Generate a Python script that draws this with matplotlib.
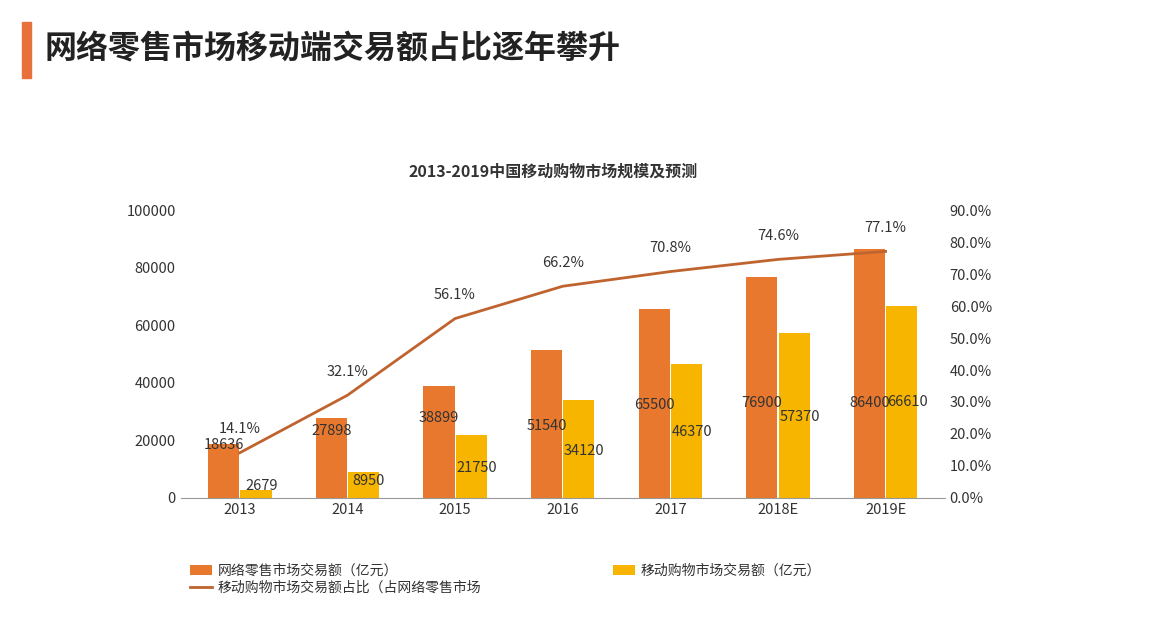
import matplotlib.pyplot as plt
import matplotlib.patches as mpatches
import numpy as np

plt.rcParams['font.family'] = ['Noto Sans CJK SC', 'DejaVu Sans']

years = ['2013', '2014', '2015', '2016', '2017', '2018E', '2019E']
online = [18636, 27898, 38899, 51540, 65500, 76900, 86400]
mobile = [2679, 8950, 21750, 34120, 46370, 57370, 66610]
share = [14.1, 32.1, 56.1, 66.2, 70.8, 74.6, 77.1]
online_label_y = [18400, 23300, 27800, 25000, 32300, 33000, 33000]
mobile_label_y = [4200, 5900, 10400, 16300, 22900, 28100, 33300]

c_or = '#E8782E'
c_ye = '#F7B500'
c_ln = '#C0642F'

fig = plt.figure(figsize=[11.65, 6.2], dpi=100)
fig.patches.append(mpatches.Rectangle((0.019, 0.875), 0.008, 0.09, transform=fig.transFigure, color='#E8703A'))
fig.text(0.038, 0.92, '网络零售市场移动端交易额占比逐年攀升', fontsize=23, fontweight='bold', va='center', color='#222222')
fig.text(0.475, 0.715, '2013-2019中国移动购物市场规模及预测', fontsize=11.5, fontweight='bold', ha='center', color='#333333')

ax = fig.add_axes([0.155, 0.197, 0.656, 0.464])
x = np.arange(len(years))
w = 0.29
b1 = ax.bar(x - 0.15, online, w, color=c_or, label='网络零售市场交易额（亿元）')
b2 = ax.bar(x + 0.15, mobile, w, color=c_ye, label='移动购物市场交易额（亿元）')
for i in range(len(years)):
    ax.text(x[i] - 0.15, online_label_y[i], str(online[i]), ha='center', va='center', fontsize=10.5, color='#333333')
    ax.text(x[i] + 0.2, mobile_label_y[i], str(mobile[i]), ha='center', va='center', fontsize=10.5, color='#333333')
ax.set_ylim(0, 100000)
ax.set_xlim(-0.55, len(years) - 0.45)
ax.set_yticks(range(0, 100001, 20000))
ax.set_xticks(x)
ax.set_xticklabels(years)
for s in ['top', 'left', 'right']:
    ax.spines[s].set_visible(False)
ax.spines['bottom'].set_color('#999999')
ax.tick_params(length=0, labelsize=10.5, colors='#333333')

ax2 = ax.twinx()
ln, = ax2.plot(x, share, color=c_ln, linewidth=2, label='移动购物市场交易额占比（占网络零售市场')
for i in range(len(years)):
    ax2.annotate(f'{share[i]:.1f}%', (x[i], share[i]), xytext=(0, 14), textcoords='offset points',
                 ha='center', fontsize=10.5, color='#333333')
ax2.set_ylim(0, 90)
ax2.set_yticks(range(0, 91, 10))
ax2.set_yticklabels([f'{v:.1f}%' for v in range(0, 91, 10)])
for s in ['top', 'left', 'right', 'bottom']:
    ax2.spines[s].set_visible(False)
ax2.tick_params(length=0, labelsize=10.5, colors='#333333')

fig.legend([b1, ln, b2], [b1.get_label(), ln.get_label(), b2.get_label()], ncol=2,
           loc='upper left', bbox_to_anchor=(0.158, 0.1), bbox_transform=fig.transFigure,
           frameon=False, fontsize=10, columnspacing=9.5, handlelength=1.6,
           handletextpad=0.4, labelspacing=0.25, borderaxespad=0, labelcolor='#333333')

plt.savefig('out.png')
